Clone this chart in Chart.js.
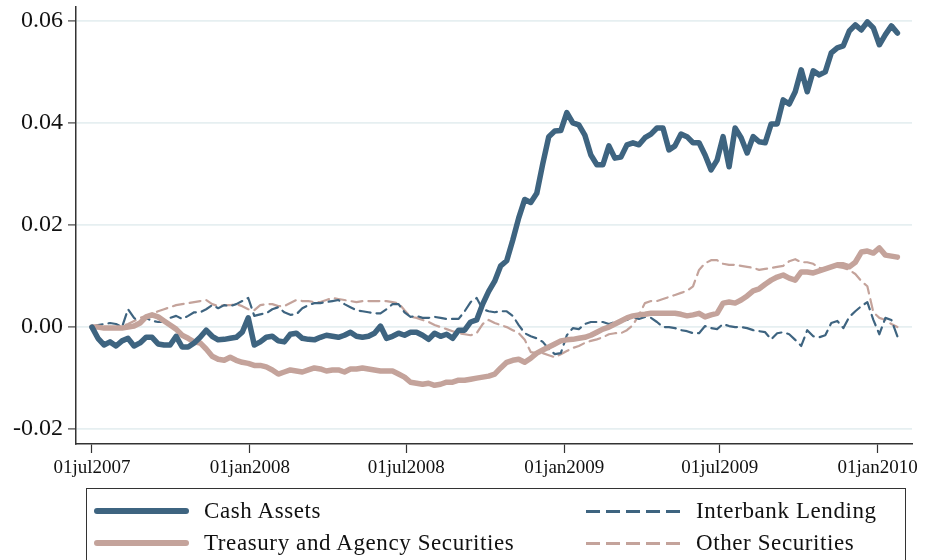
<!DOCTYPE html>
<html>
<head>
<meta charset="utf-8">
<script src="https://cdn.jsdelivr.net/npm/chart.js@4.4.0/dist/chart.umd.min.js"></script>
<style>
  body { margin: 0; background: #fff; }
  #wrap { position: relative; width: 925px; height: 560px; overflow: hidden; }
  #legend { position: absolute; left: 86px; top: 488px; width: 820px; height: 90px;
            border: 1px solid #333; box-sizing: border-box; }
  .item { position: absolute; height: 30px; display: flex; align-items: center;
          font-family: "Liberation Serif", "Times New Roman", serif; font-size: 23px;
          letter-spacing: 0.6px; color: #111; }
  .swatch { width: 95px; margin-right: 15px; }
</style>
</head>
<body>
<div id="wrap">
  <canvas id="myChart" width="925" height="560"></canvas>
  <div id="legend"></div>
</div>
<script>
// weekly observations, first one on 01jul2007
const cash = [0.0000,-0.0022,-0.0035,-0.0029,-0.0037,-0.0027,-0.0022,-0.0037,-0.0031,-0.0020,
  -0.0020,-0.0033,-0.0035,-0.0035,-0.0018,-0.0039,-0.0039,-0.0031,-0.0020,-0.0006,
  -0.0018,-0.0025,-0.0024,-0.0022,-0.0020,-0.0010,0.0018,-0.0035,-0.0029,-0.0020,
  -0.0018,-0.0027,-0.0029,-0.0014,-0.0012,-0.0022,-0.0024,-0.0025,-0.0020,-0.0016,
  -0.0018,-0.0020,-0.0016,-0.0010,-0.0018,-0.0020,-0.0018,-0.0012,0.0002,-0.0022,
  -0.0018,-0.0012,-0.0016,-0.0010,-0.0010,-0.0016,-0.0024,-0.0012,-0.0018,-0.0014,
  -0.0022,-0.0006,-0.0006,0.0010,0.0014,0.0045,0.0070,0.0090,0.0120,0.0130,
  0.0170,0.0214,0.0250,0.0244,0.0262,0.0320,0.0373,0.0384,0.0385,0.0420,
  0.0400,0.0396,0.0376,0.0337,0.0318,0.0318,0.0355,0.0331,0.0333,0.0357,
  0.0361,0.0357,0.0371,0.0378,0.0390,0.0390,0.0347,0.0355,0.0378,0.0373,
  0.0361,0.0361,0.0337,0.0308,0.0327,0.0373,0.0314,0.0390,0.0371,0.0341,
  0.0373,0.0363,0.0361,0.0398,0.0398,0.0445,0.0437,0.0461,0.0504,0.0461,
  0.0502,0.0494,0.0500,0.0537,0.0547,0.0551,0.0580,0.0592,0.0582,0.0598,
  0.0586,0.0553,0.0573,0.0590,0.0576];

const treasury = [0.0000,0.0000,-0.0002,-0.0002,-0.0002,-0.0002,0.0000,0.0002,0.0008,0.0020,
  0.0024,0.0020,0.0012,0.0004,-0.0004,-0.0016,-0.0022,-0.0029,-0.0031,-0.0043,
  -0.0057,-0.0063,-0.0065,-0.0059,-0.0065,-0.0069,-0.0071,-0.0075,-0.0075,-0.0078,
  -0.0084,-0.0092,-0.0088,-0.0084,-0.0086,-0.0088,-0.0084,-0.0080,-0.0082,-0.0086,
  -0.0084,-0.0084,-0.0088,-0.0082,-0.0082,-0.0080,-0.0082,-0.0084,-0.0086,-0.0086,
  -0.0086,-0.0092,-0.0098,-0.0108,-0.0110,-0.0112,-0.0110,-0.0114,-0.0112,-0.0108,
  -0.0108,-0.0104,-0.0104,-0.0102,-0.0100,-0.0098,-0.0096,-0.0092,-0.0080,-0.0069,
  -0.0065,-0.0063,-0.0069,-0.0061,-0.0051,-0.0045,-0.0039,-0.0033,-0.0027,-0.0025,
  -0.0024,-0.0022,-0.0020,-0.0016,-0.0010,-0.0004,0.0000,0.0006,0.0012,0.0018,
  0.0022,0.0024,0.0025,0.0027,0.0027,0.0027,0.0027,0.0027,0.0025,0.0022,
  0.0024,0.0027,0.0020,0.0024,0.0027,0.0047,0.0049,0.0047,0.0053,0.0061,
  0.0071,0.0075,0.0084,0.0092,0.0098,0.0102,0.0096,0.0092,0.0108,0.0108,
  0.0106,0.0110,0.0114,0.0118,0.0122,0.0122,0.0118,0.0127,0.0147,0.0149,
  0.0145,0.0155,0.0141,0.0139,0.0137];

const interbank = [0.0000,0.0004,0.0006,0.0008,0.0006,0.0000,0.0035,0.0018,0.0010,0.0018,
  0.0012,0.0010,0.0010,0.0018,0.0022,0.0016,0.0022,0.0029,0.0029,0.0035,
  0.0043,0.0037,0.0043,0.0041,0.0045,0.0051,0.0057,0.0022,0.0025,0.0027,
  0.0035,0.0039,0.0029,0.0024,0.0025,0.0037,0.0043,0.0047,0.0047,0.0049,
  0.0051,0.0053,0.0045,0.0039,0.0033,0.0031,0.0029,0.0027,0.0027,0.0035,
  0.0045,0.0045,0.0029,0.0020,0.0022,0.0018,0.0018,0.0020,0.0018,0.0016,
  0.0016,0.0016,0.0031,0.0049,0.0057,0.0035,0.0031,0.0029,0.0031,0.0031,
  0.0022,0.0004,-0.0012,-0.0018,-0.0022,-0.0029,-0.0043,-0.0053,-0.0051,-0.0016,
  -0.0002,-0.0004,0.0006,0.0010,0.0010,0.0010,0.0006,0.0010,0.0012,0.0014,
  0.0020,0.0016,0.0020,0.0018,0.0010,0.0000,0.0000,-0.0002,-0.0006,-0.0008,
  -0.0012,-0.0012,0.0002,-0.0002,-0.0004,0.0006,0.0002,0.0000,0.0000,-0.0002,
  -0.0006,-0.0008,-0.0010,-0.0024,-0.0012,-0.0010,-0.0014,-0.0025,-0.0037,-0.0006,
  -0.0018,-0.0020,-0.0016,0.0008,0.0012,-0.0002,0.0020,0.0031,0.0041,0.0049,
  0.0014,-0.0014,0.0018,0.0014,-0.0018];

const other = [0.0000,0.0000,0.0000,0.0000,0.0000,0.0002,0.0006,0.0012,0.0018,0.0022,
  0.0025,0.0031,0.0035,0.0039,0.0043,0.0045,0.0047,0.0049,0.0051,0.0053,
  0.0045,0.0041,0.0043,0.0043,0.0045,0.0041,0.0035,0.0033,0.0043,0.0045,
  0.0045,0.0041,0.0041,0.0047,0.0053,0.0051,0.0051,0.0049,0.0049,0.0053,
  0.0057,0.0055,0.0053,0.0051,0.0049,0.0051,0.0051,0.0051,0.0051,0.0051,
  0.0049,0.0047,0.0033,0.0020,0.0018,0.0014,0.0010,0.0004,0.0000,-0.0004,
  -0.0008,-0.0012,-0.0014,-0.0016,-0.0012,0.0006,0.0014,0.0008,0.0004,0.0000,
  -0.0006,-0.0012,-0.0025,-0.0049,-0.0051,-0.0051,-0.0055,-0.0059,-0.0053,-0.0047,
  -0.0041,-0.0037,-0.0031,-0.0027,-0.0024,-0.0020,-0.0014,-0.0012,-0.0012,-0.0006,
  0.0004,0.0024,0.0047,0.0051,0.0051,0.0055,0.0059,0.0063,0.0067,0.0071,
  0.0080,0.0112,0.0125,0.0131,0.0131,0.0124,0.0122,0.0122,0.0120,0.0118,
  0.0116,0.0112,0.0114,0.0116,0.0118,0.0120,0.0129,0.0133,0.0127,0.0127,
  0.0124,0.0116,0.0114,0.0116,0.0118,0.0116,0.0112,0.0104,0.0090,0.0080,
  0.0029,0.0018,0.0014,0.0006,0.0000];

// x axis is days since 01jul2007
const xTickDays = [0, 184, 366, 550, 731, 915];
const xTickLabels = ["01jul2007", "01jan2008", "01jul2008", "01jan2009", "01jul2009", "01jan2010"];
const yTicks = [-0.02, 0, 0.02, 0.04, 0.06];
const yTickLabels = ["-0.02", "0.00", "0.02", "0.04", "0.06"];

const blue = "#3e6480";
const rose = "#c4a39b";
const serif = "'Liberation Serif', 'Times New Roman', serif";

function pts(values) {
  return values.map((v, i) => ({ x: i * 7, y: v }));
}

const datasets = [
  { label: "Cash Assets", data: pts(cash), borderColor: blue, borderWidth: 5.5, order: 0 },
  { label: "Treasury and Agency Securities", data: pts(treasury), borderColor: rose, borderWidth: 5.5, order: 1 },
  { label: "Interbank Lending", data: pts(interbank), borderColor: blue, borderWidth: 2.2, borderDash: [11, 6], order: 2 },
  { label: "Other Securities", data: pts(other), borderColor: rose, borderWidth: 2.2, borderDash: [11, 6], order: 3 }
];
datasets.forEach(d => {
  d.pointRadius = 0;
  d.tension = 0;
  d.fill = false;
  d.borderCapStyle = "round";
  d.borderJoinStyle = "round";
});

const ctx = document.getElementById("myChart");
const myChart = new Chart(ctx, {
  type: "line",
  data: { datasets: datasets },
  options: {
    responsive: false,
    animation: false,
    layout: { padding: { left: 0, right: 13, top: 7, bottom: 76 } },
    plugins: { legend: { display: false }, tooltip: { enabled: false } },
    scales: {
      x: {
        type: "linear",
        min: -18.6,
        max: 955,
        afterBuildTicks: s => { s.ticks = xTickDays.map(v => ({ value: v })); },
        afterFit: s => { s.height = 40; s.paddingLeft = 0; s.paddingRight = 0; },
        ticks: {
          callback: (v, i) => xTickLabels[i],
          autoSkip: false, maxRotation: 0, padding: 4,
          color: "#111", font: { family: serif, size: 19 }
        },
        grid: { drawOnChartArea: false, tickLength: 9, tickColor: "#333", tickWidth: 1.2 },
        border: { color: "#333", width: 1.5 }
      },
      y: {
        min: -0.0229,
        max: 0.0627,
        afterBuildTicks: s => { s.ticks = yTicks.map(v => ({ value: v })); },
        afterFit: s => { s.width = 76; s.paddingTop = 0; s.paddingBottom = 0; },
        ticks: {
          callback: (v, i) => yTickLabels[i],
          padding: 5,
          color: "#111", font: { family: serif, size: 24 }
        },
        grid: { color: "#e6eff1", lineWidth: 1.8, tickLength: 8, tickColor: "#444", tickWidth: 1.2 },
        border: { color: "#333", width: 1.5 }
      }
    }
  }
});

// legend below the plot, two columns like the original
const legendSpots = [[7, 7], [7, 39], [499, 7], [499, 39]];
const legendOrder = [0, 1, 2, 3];
const legend = document.getElementById("legend");
legendOrder.forEach((k, j) => {
  const d = datasets[k];
  const item = document.createElement("div");
  item.className = "item";
  item.style.left = legendSpots[j][0] + "px";
  item.style.top = legendSpots[j][1] + "px";
  const sw = document.createElement("div");
  sw.className = "swatch";
  if (d.borderDash) {
    sw.style.height = "3px";
    sw.style.background = "repeating-linear-gradient(to right, " + d.borderColor + " 0 14px, transparent 14px 20px)";
  } else {
    sw.style.height = "6px";
    sw.style.borderRadius = "3px";
    sw.style.background = d.borderColor;
  }
  const tx = document.createElement("span");
  tx.textContent = d.label;
  item.appendChild(sw);
  item.appendChild(tx);
  legend.appendChild(item);
});
</script>
</body>
</html>
